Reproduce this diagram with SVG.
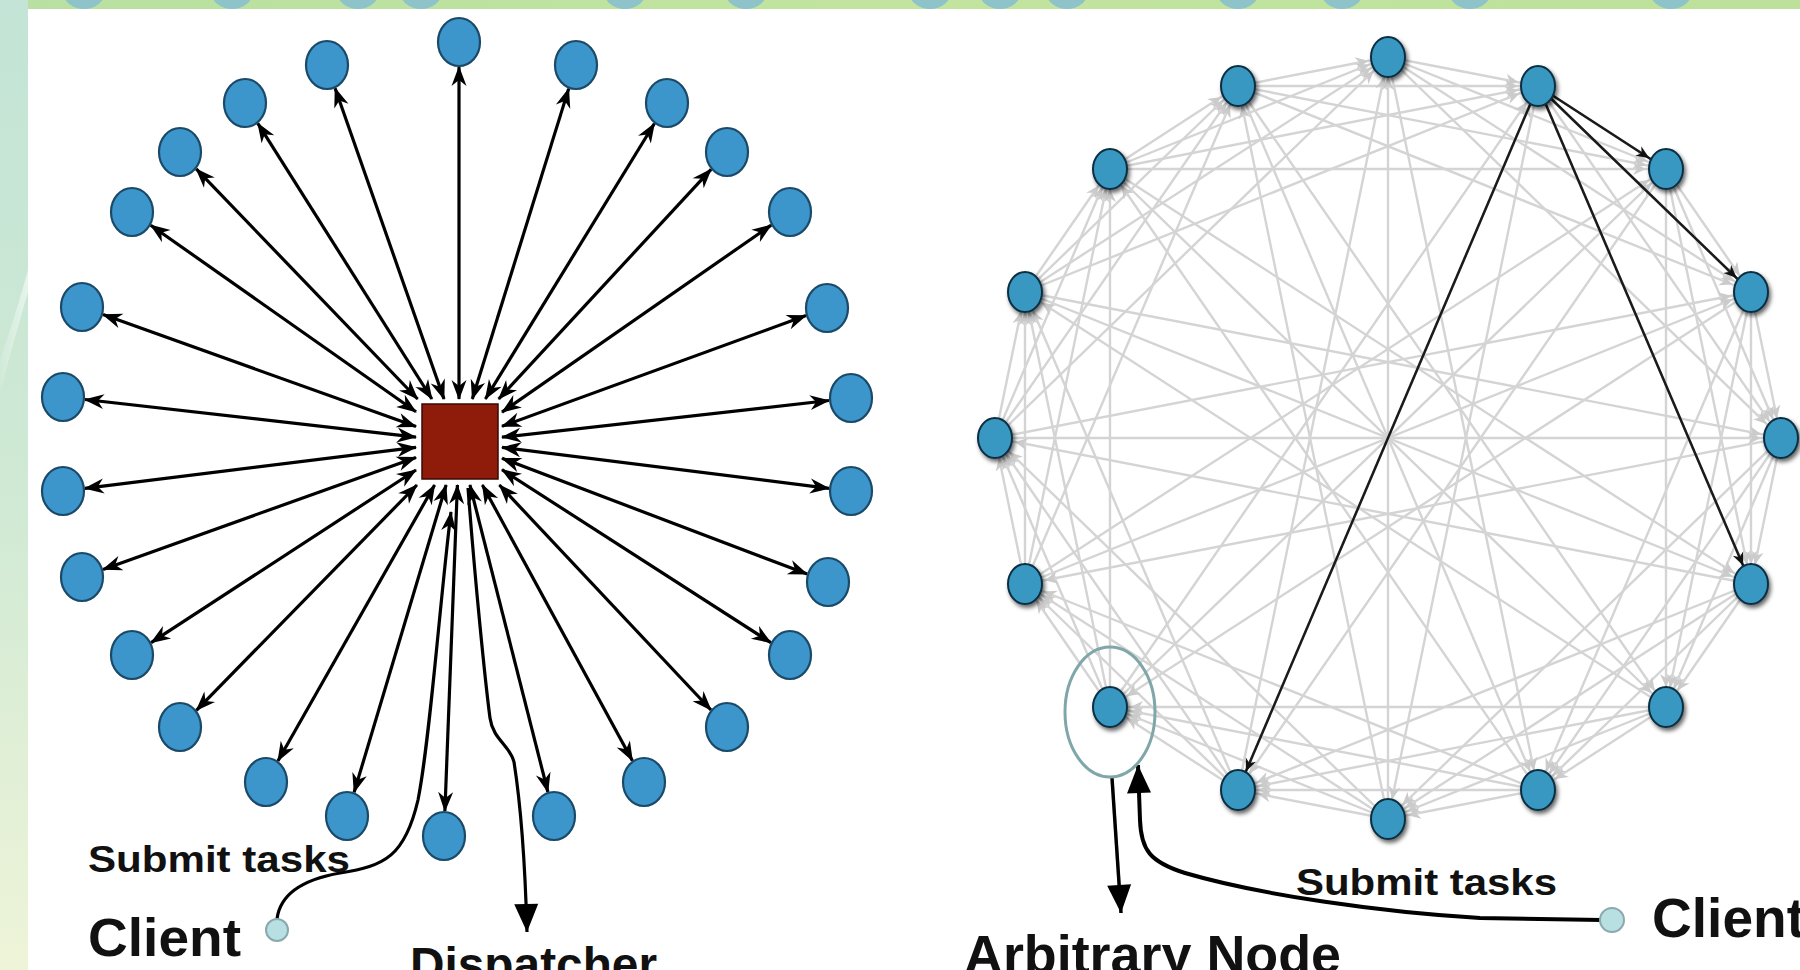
<svg xmlns="http://www.w3.org/2000/svg" width="1800" height="970" viewBox="0 0 1800 970">
<style>
  .lbl{font-family:"Liberation Sans",Arial,sans-serif;font-weight:bold;fill:#111}
  .ln{fill:#3d96cb;stroke:#1b4a69;stroke-width:2.2}
  .rn{fill:#3798c2;stroke:#0b2f40;stroke-width:2}
  .bk{stroke:#000;stroke-width:3.2;fill:none}
  .gr{stroke:#d4d4d4;stroke-width:2.4;fill:none}
  .rb{stroke:#1a1a1a;stroke-width:2.5;fill:none}
  .client{fill:#b8dfe2;stroke:#8aa9ad;stroke-width:2}
</style>
<defs>
  <linearGradient id="strip" x1="0" y1="0" x2="0" y2="1">
    <stop offset="0" stop-color="#c3e4d6"/>
    <stop offset="0.5" stop-color="#cfe9d4"/>
    <stop offset="1" stop-color="#eef4d8"/>
  </linearGradient>
  <linearGradient id="band" x1="0" y1="0" x2="1" y2="0">
    <stop offset="0" stop-color="#b9e0a2"/>
    <stop offset="0.5" stop-color="#c2e49e"/>
    <stop offset="1" stop-color="#bde19b"/>
  </linearGradient>
  <linearGradient id="streak" x1="0" y1="0" x2="1" y2="0">
    <stop offset="0" stop-color="#ffffff" stop-opacity="0.1"/>
    <stop offset="1" stop-color="#ffffff" stop-opacity="0.55"/>
  </linearGradient>
  <clipPath id="bandclip"><rect x="28" y="0" width="1772" height="9"/></clipPath>
  <marker id="ah" markerUnits="userSpaceOnUse" viewBox="-22 -10 24 20" refX="0" refY="0" markerWidth="24" markerHeight="20" orient="auto-start-reverse">
    <path d="M1,0 L-19,-7.5 L-13,0 L-19,7.5 z" fill="#000"/>
  </marker>
  <marker id="big" markerUnits="userSpaceOnUse" viewBox="-30 -14 32 28" refX="0" refY="0" markerWidth="32" markerHeight="28" orient="auto">
    <path d="M0,0 L-28,-12 L-28,12 z" fill="#000"/>
  </marker>
  <marker id="ga" markerUnits="userSpaceOnUse" viewBox="-40 -8 42 16" refX="0" refY="0" markerWidth="42" markerHeight="16" orient="auto">
    <path d="M-20,0 L-33,-6 L-29,0 L-33,6 z" fill="#cbcbcb"/>
  </marker>
  <marker id="ba" markerUnits="userSpaceOnUse" viewBox="-40 -8 42 16" refX="0" refY="0" markerWidth="42" markerHeight="16" orient="auto">
    <path d="M-20,0 L-33,-5.5 L-29,0 L-33,5.5 z" fill="#111"/>
  </marker>
  <filter id="sh" x="-50%" y="-50%" width="200%" height="200%">
    <feDropShadow dx="2" dy="3" stdDeviation="2" flood-color="#000" flood-opacity="0.6"/>
  </filter>
</defs>

<!-- background -->
<rect x="0" y="0" width="1800" height="970" fill="#ffffff"/>
<rect x="0" y="0" width="28" height="970" fill="url(#strip)"/>
<path d="M0,360 Q14,320 28,270 L28,292 Q14,340 0,392 z" fill="url(#streak)"/>
<rect x="28" y="0" width="1772" height="9" fill="url(#band)"/>
<g clip-path="url(#bandclip)" fill="#8ec3c9">
  <ellipse cx="84" cy="-11" rx="22" ry="20"/>
  <ellipse cx="232" cy="-11" rx="22" ry="20"/>
  <ellipse cx="358" cy="-11" rx="22" ry="20"/>
  <ellipse cx="421" cy="-11" rx="22" ry="20"/>
  <ellipse cx="625" cy="-11" rx="22" ry="20"/>
  <ellipse cx="746" cy="-11" rx="22" ry="20"/>
  <ellipse cx="930" cy="-11" rx="22" ry="20"/>
  <ellipse cx="1000" cy="-11" rx="22" ry="20"/>
  <ellipse cx="1067" cy="-11" rx="22" ry="20"/>
  <ellipse cx="1238" cy="-11" rx="22" ry="20"/>
  <ellipse cx="1342" cy="-11" rx="22" ry="20"/>
  <ellipse cx="1470" cy="-11" rx="22" ry="20"/>
  <ellipse cx="1671" cy="-11" rx="22" ry="20"/>
</g>

<!-- LEFT: connectors -->
<g id="left-connectors" class="bk" marker-start="url(#ah)" marker-end="url(#ah)">
  <line x1="459" y1="399" x2="459" y2="67"/>
  <line x1="472.3" y1="399" x2="568.7" y2="88.6"/>
  <line x1="485.4" y1="399" x2="654.4" y2="123.5"/>
  <line x1="498.7" y1="399" x2="711.1" y2="169.3"/>
  <line x1="502" y1="412.1" x2="771.2" y2="225.1"/>
  <line x1="502" y1="426.3" x2="806" y2="315.6"/>
  <line x1="502" y1="437.2" x2="829" y2="400.5"/>
  <line x1="502" y1="447.4" x2="829" y2="488.3"/>
  <line x1="502" y1="458.3" x2="807.2" y2="574.1"/>
  <line x1="502" y1="469.7" x2="770.9" y2="642.7"/>
  <line x1="499.4" y1="485" x2="711" y2="710"/>
  <line x1="482.4" y1="485" x2="632.4" y2="760.7"/>
  <line x1="469.9" y1="485" x2="547.9" y2="792"/>
  <line x1="457.4" y1="485" x2="444.9" y2="811"/>
  <line x1="446.1" y1="485" x2="354.1" y2="792.3"/>
  <line x1="434.6" y1="485" x2="277.9" y2="761"/>
  <line x1="416.9" y1="485" x2="196.4" y2="710.3"/>
  <line x1="416" y1="470" x2="151.1" y2="642.6"/>
  <line x1="416" y1="457.4" x2="103" y2="569.5"/>
  <line x1="416" y1="447.3" x2="84.9" y2="488.3"/>
  <line x1="416" y1="437.1" x2="84.9" y2="399.5"/>
  <line x1="416" y1="426.6" x2="103" y2="314.5"/>
  <line x1="416" y1="411.8" x2="150.7" y2="225.2"/>
  <line x1="417.6" y1="399" x2="196.2" y2="168.9"/>
  <line x1="431.9" y1="399" x2="257.8" y2="123.3"/>
  <line x1="444" y1="399" x2="335.1" y2="88.2"/>
</g>
<g id="left-client-flow" class="bk">
  <path d="M277,919 C280,895 300,880 340,873 C385,866 405,856 418,800 C430,740 440,600 451,512" marker-end="url(#ah)"/>
  <path d="M468,488 C475,580 485,680 490,718 C493,740 510,745 514,762 C520,800 525,860 527,932" marker-end="url(#big)"/>
</g>

<!-- LEFT: nodes -->
<g id="dispatcher">
  <rect x="422" y="404" width="76" height="75" fill="#8f1c0b" stroke="#3a0a05" stroke-width="1.5"/>
</g>
<g id="left-workers" class="ln">
  <ellipse cx="459" cy="42" rx="21" ry="24"/>
  <ellipse cx="576" cy="65" rx="21" ry="24"/>
  <ellipse cx="667" cy="103" rx="21" ry="24"/>
  <ellipse cx="727" cy="152" rx="21" ry="24"/>
  <ellipse cx="790" cy="212" rx="21" ry="24"/>
  <ellipse cx="827" cy="308" rx="21" ry="24"/>
  <ellipse cx="851" cy="398" rx="21" ry="24"/>
  <ellipse cx="851" cy="491" rx="21" ry="24"/>
  <ellipse cx="828" cy="582" rx="21" ry="24"/>
  <ellipse cx="790" cy="655" rx="21" ry="24"/>
  <ellipse cx="727" cy="727" rx="21" ry="24"/>
  <ellipse cx="644" cy="782" rx="21" ry="24"/>
  <ellipse cx="554" cy="816" rx="21" ry="24"/>
  <ellipse cx="444" cy="836" rx="21" ry="24"/>
  <ellipse cx="347" cy="816" rx="21" ry="24"/>
  <ellipse cx="266" cy="782" rx="21" ry="24"/>
  <ellipse cx="180" cy="727" rx="21" ry="24"/>
  <ellipse cx="132" cy="655" rx="21" ry="24"/>
  <ellipse cx="82" cy="577" rx="21" ry="24"/>
  <ellipse cx="63" cy="491" rx="21" ry="24"/>
  <ellipse cx="63" cy="397" rx="21" ry="24"/>
  <ellipse cx="82" cy="307" rx="21" ry="24"/>
  <ellipse cx="132" cy="212" rx="21" ry="24"/>
  <ellipse cx="180" cy="152" rx="21" ry="24"/>
  <ellipse cx="245" cy="103" rx="21" ry="24"/>
  <ellipse cx="327" cy="65" rx="21" ry="24"/>
</g>
<g id="left-client">
  <circle cx="277" cy="930" r="11" class="client"/>
</g>
<text class="lbl" x="88" y="872" font-size="36" textLength="262" lengthAdjust="spacingAndGlyphs">Submit tasks</text>
<text class="lbl" x="88" y="956" font-size="54" textLength="153" lengthAdjust="spacingAndGlyphs">Client</text>
<text class="lbl" x="410" y="981" font-size="48" textLength="247" lengthAdjust="spacingAndGlyphs">Dispatcher</text>

<!-- RIGHT: connectors -->
<g id="right-connectors" class="gr" marker-end="url(#ga)">
  <line x1="1388" y1="57" x2="1538" y2="86"/>
  <line x1="1538" y1="86" x2="1666" y2="169"/>
  <line x1="1666" y1="169" x2="1751" y2="292"/>
  <line x1="1751" y1="292" x2="1781" y2="438"/>
  <line x1="1781" y1="438" x2="1751" y2="584"/>
  <line x1="1751" y1="584" x2="1666" y2="707"/>
  <line x1="1666" y1="707" x2="1538" y2="790"/>
  <line x1="1538" y1="790" x2="1388" y2="819"/>
  <line x1="1388" y1="819" x2="1238" y2="790"/>
  <line x1="1238" y1="790" x2="1110" y2="707"/>
  <line x1="1110" y1="707" x2="1025" y2="584"/>
  <line x1="1025" y1="584" x2="995" y2="438"/>
  <line x1="995" y1="438" x2="1025" y2="292"/>
  <line x1="1025" y1="292" x2="1110" y2="169"/>
  <line x1="1110" y1="169" x2="1238" y2="86"/>
  <line x1="1238" y1="86" x2="1388" y2="57"/>

  <line x1="1388" y1="57" x2="1666" y2="169"/>
  <line x1="1538" y1="86" x2="1751" y2="292"/>
  <line x1="1666" y1="169" x2="1781" y2="438"/>
  <line x1="1751" y1="292" x2="1751" y2="584"/>
  <line x1="1781" y1="438" x2="1666" y2="707"/>
  <line x1="1751" y1="584" x2="1538" y2="790"/>
  <line x1="1666" y1="707" x2="1388" y2="819"/>
  <line x1="1538" y1="790" x2="1238" y2="790"/>
  <line x1="1388" y1="819" x2="1110" y2="707"/>
  <line x1="1238" y1="790" x2="1025" y2="584"/>
  <line x1="1110" y1="707" x2="995" y2="438"/>
  <line x1="1025" y1="584" x2="1025" y2="292"/>
  <line x1="995" y1="438" x2="1110" y2="169"/>
  <line x1="1025" y1="292" x2="1238" y2="86"/>
  <line x1="1110" y1="169" x2="1388" y2="57"/>
  <line x1="1238" y1="86" x2="1538" y2="86"/>

  <line x1="1388" y1="57" x2="1751" y2="292"/>
  <line x1="1538" y1="86" x2="1781" y2="438"/>
  <line x1="1666" y1="169" x2="1751" y2="584"/>
  <line x1="1751" y1="292" x2="1666" y2="707"/>
  <line x1="1781" y1="438" x2="1538" y2="790"/>
  <line x1="1751" y1="584" x2="1388" y2="819"/>
  <line x1="1666" y1="707" x2="1238" y2="790"/>
  <line x1="1538" y1="790" x2="1110" y2="707"/>
  <line x1="1388" y1="819" x2="1025" y2="584"/>
  <line x1="1238" y1="790" x2="995" y2="438"/>
  <line x1="1110" y1="707" x2="1025" y2="292"/>
  <line x1="1025" y1="584" x2="1110" y2="169"/>
  <line x1="995" y1="438" x2="1238" y2="86"/>
  <line x1="1025" y1="292" x2="1388" y2="57"/>
  <line x1="1110" y1="169" x2="1538" y2="86"/>
  <line x1="1238" y1="86" x2="1666" y2="169"/>

  <line x1="1388" y1="57" x2="1781" y2="438"/>
  <line x1="1538" y1="86" x2="1751" y2="584"/>
  <line x1="1666" y1="169" x2="1666" y2="707"/>
  <line x1="1751" y1="292" x2="1538" y2="790"/>
  <line x1="1781" y1="438" x2="1388" y2="819"/>
  <line x1="1751" y1="584" x2="1238" y2="790"/>
  <line x1="1666" y1="707" x2="1110" y2="707"/>
  <line x1="1538" y1="790" x2="1025" y2="584"/>
  <line x1="1388" y1="819" x2="995" y2="438"/>
  <line x1="1238" y1="790" x2="1025" y2="292"/>
  <line x1="1110" y1="707" x2="1110" y2="169"/>
  <line x1="1025" y1="584" x2="1238" y2="86"/>
  <line x1="995" y1="438" x2="1388" y2="57"/>
  <line x1="1025" y1="292" x2="1538" y2="86"/>
  <line x1="1110" y1="169" x2="1666" y2="169"/>
  <line x1="1238" y1="86" x2="1751" y2="292"/>

  <line x1="1388" y1="57" x2="1538" y2="790"/>
  <line x1="1538" y1="86" x2="1388" y2="819"/>
  <line x1="1666" y1="169" x2="1238" y2="790"/>
  <line x1="1751" y1="292" x2="1110" y2="707"/>
  <line x1="1781" y1="438" x2="1025" y2="584"/>
  <line x1="1751" y1="584" x2="995" y2="438"/>
  <line x1="1666" y1="707" x2="1025" y2="292"/>
  <line x1="1538" y1="790" x2="1110" y2="169"/>
  <line x1="1388" y1="819" x2="1238" y2="86"/>
  <line x1="1238" y1="790" x2="1388" y2="57"/>
  <line x1="1110" y1="707" x2="1538" y2="86"/>
  <line x1="1025" y1="584" x2="1666" y2="169"/>
  <line x1="995" y1="438" x2="1751" y2="292"/>
  <line x1="1025" y1="292" x2="1781" y2="438"/>
  <line x1="1110" y1="169" x2="1751" y2="584"/>
  <line x1="1238" y1="86" x2="1666" y2="707"/>

  <line x1="1388" y1="819" x2="1388" y2="57"/>
  <line x1="1238" y1="790" x2="1538" y2="86"/>
  <line x1="1110" y1="707" x2="1666" y2="169"/>
  <line x1="1025" y1="584" x2="1751" y2="292"/>
  <line x1="995" y1="438" x2="1781" y2="438"/>
  <line x1="1025" y1="292" x2="1751" y2="584"/>
  <line x1="1110" y1="169" x2="1666" y2="707"/>
  <line x1="1238" y1="86" x2="1538" y2="790"/>
</g>
<g id="right-black-connectors" class="rb" marker-end="url(#ba)">
  <line x1="1538" y1="86" x2="1666" y2="169"/>
  <line x1="1538" y1="86" x2="1751" y2="292"/>
  <line x1="1538" y1="86" x2="1751" y2="584"/>
  <line x1="1538" y1="86" x2="1238" y2="790"/>
</g>
<g id="right-client-flow" class="bk">
  <path d="M1112,778 L1121,913" stroke-width="3.5" marker-end="url(#big)"/>
  <path d="M1602,920 L1480,918 C1380,912 1260,895 1185,873 C1150,862 1141,850 1140,820 L1138,765" stroke-width="4" marker-end="url(#big)"/>
</g>

<!-- RIGHT: nodes -->
<g id="right-peers" class="rn" filter="url(#sh)">
  <ellipse cx="1388" cy="57" rx="17" ry="20"/>
  <ellipse cx="1538" cy="86" rx="17" ry="20"/>
  <ellipse cx="1666" cy="169" rx="17" ry="20"/>
  <ellipse cx="1751" cy="292" rx="17" ry="20"/>
  <ellipse cx="1781" cy="438" rx="17" ry="20"/>
  <ellipse cx="1751" cy="584" rx="17" ry="20"/>
  <ellipse cx="1666" cy="707" rx="17" ry="20"/>
  <ellipse cx="1538" cy="790" rx="17" ry="20"/>
  <ellipse cx="1388" cy="819" rx="17" ry="20"/>
  <ellipse cx="1238" cy="790" rx="17" ry="20"/>
  <ellipse cx="1110" cy="707" rx="17" ry="20"/>
  <ellipse cx="1025" cy="584" rx="17" ry="20"/>
  <ellipse cx="995" cy="438" rx="17" ry="20"/>
  <ellipse cx="1025" cy="292" rx="17" ry="20"/>
  <ellipse cx="1110" cy="169" rx="17" ry="20"/>
  <ellipse cx="1238" cy="86" rx="17" ry="20"/>
</g>
<g id="arbitrary-node-ring">
  <ellipse cx="1110" cy="712" rx="45" ry="65" fill="none" stroke="#7fa6a8" stroke-width="3"/>
</g>
<g id="right-client">
  <circle cx="1612" cy="920" r="12" class="client"/>
</g>
<text class="lbl" x="1296" y="895" font-size="36" textLength="261" lengthAdjust="spacingAndGlyphs">Submit tasks</text>
<text class="lbl" x="1652" y="937" font-size="55" textLength="153" lengthAdjust="spacingAndGlyphs">Client</text>
<text class="lbl" x="964" y="973" font-size="54" textLength="377" lengthAdjust="spacingAndGlyphs">Arbitrary Node</text>
</svg>
